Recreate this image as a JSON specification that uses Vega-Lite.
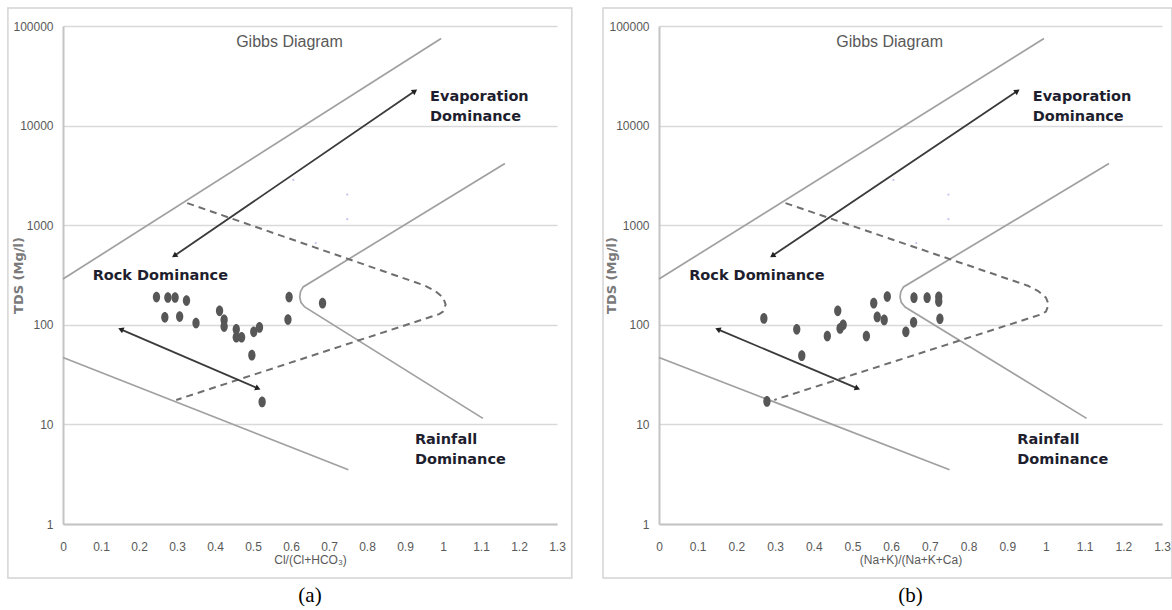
{
  "$schema": "https://vega.github.io/schema/vega-lite/v6.json",
  "padding": {"left": 7, "top": 7, "right": 0, "bottom": 0},
  "spacing": 29,
  "config": {"view": {"stroke": null}, "axis": {"labelOverlap": false, "labelSeparation": 0, "labelBound": false}, "axisX": {"labelOverlap": false}, "axisQuantitative": {"labelOverlap": false}},
  "datasets": {
    "template": [
      {"line": "upper", "o": 0, "x": 0, "tds": 288},
      {"line": "upper", "o": 1, "x": 0.995, "tds": 75000},
      {"line": "lower", "o": 0, "x": 0, "tds": 47},
      {"line": "lower", "o": 1, "x": 0.751, "tds": 3.5},
      {"line": "right", "o": 0, "x": 1.163, "tds": 4160},
      {"line": "right", "o": 1, "x": 0.632, "tds": 240},
      {"line": "right", "o": 2, "x": 0.625, "tds": 215},
      {"line": "right", "o": 3, "x": 0.623, "tds": 190},
      {"line": "right", "o": 4, "x": 0.626, "tds": 168},
      {"line": "right", "o": 5, "x": 0.636, "tds": 151},
      {"line": "right", "o": 6, "x": 1.105, "tds": 11.5}
    ],
    "dashed": [
      {"o": 0, "x": 0.327, "tds": 1667},
      {"o": 1, "x": 0.953, "tds": 247},
      {"o": 2, "x": 0.98, "tds": 218},
      {"o": 3, "x": 1.0, "tds": 188},
      {"o": 4, "x": 1.007, "tds": 160},
      {"o": 5, "x": 1.0, "tds": 136},
      {"o": 6, "x": 0.99, "tds": 128},
      {"o": 7, "x": 0.298, "tds": 17.6}
    ],
    "arrows": [
      {"arrow": "evap", "o": 0, "x": 0.293, "tds": 493},
      {"arrow": "evap", "o": 1, "x": 0.926, "tds": 22200},
      {"arrow": "rock", "o": 0, "x": 0.152, "tds": 90},
      {"arrow": "rock", "o": 1, "x": 0.513, "tds": 23}
    ],
    "notes": [
      {"kind": "title", "x": 0.596, "tds": 69000, "text": "Gibbs Diagram"},
      {"kind": "bold", "x": 0.966, "tds": 17700, "text": "Evaporation\nDominance"},
      {"kind": "bold", "x": 0.078, "tds": 284, "text": "Rock Dominance"},
      {"kind": "bold", "x": 0.926, "tds": 6.4, "text": "Rainfall\nDominance"}
    ],
    "specks": [
      {"x": 0.606, "tds": 2850},
      {"x": 0.748, "tds": 2030},
      {"x": 0.748, "tds": 1150},
      {"x": 0.665, "tds": 662}
    ],
    "pts": [
      {"panel": "a", "x": 0.246, "tds": 190},
      {"panel": "a", "x": 0.276, "tds": 188},
      {"panel": "a", "x": 0.295, "tds": 188},
      {"panel": "a", "x": 0.325, "tds": 175},
      {"panel": "a", "x": 0.268, "tds": 119},
      {"panel": "a", "x": 0.307, "tds": 121},
      {"panel": "a", "x": 0.35, "tds": 104},
      {"panel": "a", "x": 0.412, "tds": 138},
      {"panel": "a", "x": 0.424, "tds": 112},
      {"panel": "a", "x": 0.424, "tds": 96},
      {"panel": "a", "x": 0.456, "tds": 90},
      {"panel": "a", "x": 0.456, "tds": 75},
      {"panel": "a", "x": 0.47, "tds": 75},
      {"panel": "a", "x": 0.502, "tds": 85},
      {"panel": "a", "x": 0.517, "tds": 94},
      {"panel": "a", "x": 0.497, "tds": 49.5},
      {"panel": "a", "x": 0.524, "tds": 16.8},
      {"panel": "a", "x": 0.595, "tds": 190},
      {"panel": "a", "x": 0.592, "tds": 113},
      {"panel": "a", "x": 0.683, "tds": 165},
      {"panel": "b", "x": 0.271, "tds": 116},
      {"panel": "b", "x": 0.279, "tds": 17},
      {"panel": "b", "x": 0.356, "tds": 90},
      {"panel": "b", "x": 0.369, "tds": 49},
      {"panel": "b", "x": 0.435, "tds": 77},
      {"panel": "b", "x": 0.462, "tds": 138},
      {"panel": "b", "x": 0.468, "tds": 92},
      {"panel": "b", "x": 0.476, "tds": 100},
      {"panel": "b", "x": 0.536, "tds": 77},
      {"panel": "b", "x": 0.555, "tds": 165},
      {"panel": "b", "x": 0.564, "tds": 120},
      {"panel": "b", "x": 0.582, "tds": 112},
      {"panel": "b", "x": 0.59, "tds": 192},
      {"panel": "b", "x": 0.638, "tds": 85},
      {"panel": "b", "x": 0.658, "tds": 106},
      {"panel": "b", "x": 0.659, "tds": 187},
      {"panel": "b", "x": 0.693, "tds": 187},
      {"panel": "b", "x": 0.723, "tds": 191},
      {"panel": "b", "x": 0.723, "tds": 171},
      {"panel": "b", "x": 0.726, "tds": 115}
    ]
  },
  "hconcat": [
    {
      "width": 494,
      "height": 498,
      "title": {"text": "(a)", "orient": "bottom", "font": "Liberation Serif", "fontSize": 21, "fontWeight": "normal", "color": "#000000", "offset": 6},
      "layer": [
        {
          "data": {"name": "template"},
          "mark": {"type": "line", "color": "#a0a0a0", "strokeWidth": 1.7},
          "encoding": {
            "x": {"field": "x", "type": "quantitative", "scale": {"domain": [0, 1.3], "nice": false, "zero": false},
              "axis": {"title": "Cl/(Cl+HCO₃)", "values": [0, 0.1, 0.2, 0.3, 0.4, 0.5, 0.6, 0.7, 0.8, 0.9, 1, 1.1, 1.2, 1.3], "tickCount": 14, "format": ".1~f", "labelOverlap": false, "labelFlush": false, "grid": false, "ticks": false, "domain": true, "domainColor": "#c4c4c4", "domainWidth": 2, "labelFont": "Liberation Sans", "labelFontSize": 12, "labelColor": "#595959", "labelPadding": 17, "titleFont": "Liberation Sans", "titleFontSize": 12, "titleFontWeight": "normal", "titleColor": "#595959", "titlePadding": 2}},
            "y": {"field": "tds", "type": "quantitative", "scale": {"type": "log", "domain": [1, 100000], "nice": false},
              "axis": {"title": "TDS (Mg/l)", "values": [1, 10, 100, 1000, 10000, 100000], "format": "d", "labelOverlap": false, "grid": true, "gridColor": "#d9d9d9", "gridWidth": 1.5, "ticks": false, "domain": true, "domainColor": "#c4c4c4", "domainWidth": 2, "labelFont": "Liberation Sans", "labelFontSize": 12, "labelColor": "#595959", "labelPadding": 10, "titleFont": "DejaVu Sans", "titleFontSize": 13, "titleFontWeight": "bold", "titleColor": "#7a7a7a", "titlePadding": -13}},
            "detail": {"field": "line"},
            "order": {"field": "o"}
          }
        },
        {
          "data": {"values": [{}]},
          "mark": {"type": "rect", "fill": null, "stroke": "#d4d4d4", "strokeWidth": 1.5, "clip": false},
          "encoding": {
            "x": {"datum": -0.145, "type": "quantitative"},
            "x2": {"datum": 1.339},
            "y": {"datum": 151700, "type": "quantitative"},
            "y2": {"datum": 0.287}
          }
        },
        {
          "data": {"name": "dashed"},
          "mark": {"type": "line", "color": "#6e6e6e", "strokeWidth": 2, "strokeDash": [7, 5]},
          "encoding": {
            "x": {"field": "x", "type": "quantitative"},
            "y": {"field": "tds", "type": "quantitative"},
            "order": {"field": "o"}
          }
        },
        {
          "data": {"name": "arrows"},
          "mark": {"type": "line", "color": "#3a3a3a", "strokeWidth": 1.8},
          "encoding": {
            "x": {"field": "x", "type": "quantitative"},
            "y": {"field": "tds", "type": "quantitative"},
            "detail": {"field": "arrow"},
            "order": {"field": "o"}
          }
        },
        {
          "data": {"name": "arrows"},
          "transform": [{"filter": "datum.arrow == 'evap' && datum.o == 0"}],
          "mark": {"type": "point", "shape": "triangle-right", "filled": true, "color": "#222222", "size": 40, "angle": 145.6, "opacity": 1},
          "encoding": {"x": {"field": "x", "type": "quantitative"}, "y": {"field": "tds", "type": "quantitative"}}
        },
        {
          "data": {"name": "arrows"},
          "transform": [{"filter": "datum.arrow == 'evap' && datum.o == 1"}],
          "mark": {"type": "point", "shape": "triangle-right", "filled": true, "color": "#222222", "size": 40, "angle": 325.6, "opacity": 1},
          "encoding": {"x": {"field": "x", "type": "quantitative"}, "y": {"field": "tds", "type": "quantitative"}}
        },
        {
          "data": {"name": "arrows"},
          "transform": [{"filter": "datum.arrow == 'rock' && datum.o == 0"}],
          "mark": {"type": "point", "shape": "triangle-right", "filled": true, "color": "#222222", "size": 40, "angle": 203.2, "opacity": 1},
          "encoding": {"x": {"field": "x", "type": "quantitative"}, "y": {"field": "tds", "type": "quantitative"}}
        },
        {
          "data": {"name": "arrows"},
          "transform": [{"filter": "datum.arrow == 'rock' && datum.o == 1"}],
          "mark": {"type": "point", "shape": "triangle-right", "filled": true, "color": "#222222", "size": 40, "angle": 23.2, "opacity": 1},
          "encoding": {"x": {"field": "x", "type": "quantitative"}, "y": {"field": "tds", "type": "quantitative"}}
        },
        {
          "data": {"name": "specks"},
          "mark": {"type": "point", "shape": "circle", "filled": true, "color": "#c4c4ee", "size": 5, "opacity": 1},
          "encoding": {"x": {"field": "x", "type": "quantitative"}, "y": {"field": "tds", "type": "quantitative"}}
        },
        {
          "data": {"name": "pts"},
          "transform": [{"filter": "datum.panel == 'a'"}],
          "mark": {"type": "point", "shape": "M-0.68,0A0.68,1,0,1,0,0.68,0A0.68,1,0,1,0,-0.68,0Z", "filled": true, "color": "#575757", "size": 115, "opacity": 1},
          "encoding": {"x": {"field": "x", "type": "quantitative"}, "y": {"field": "tds", "type": "quantitative"}}
        },
        {
          "data": {"name": "notes"},
          "transform": [{"filter": "datum.kind == 'title'"}],
          "mark": {"type": "text", "font": "Liberation Sans", "fontSize": 16, "color": "#595959", "align": "center", "baseline": "middle"},
          "encoding": {"x": {"field": "x", "type": "quantitative"}, "y": {"field": "tds", "type": "quantitative"}, "text": {"field": "text"}}
        },
        {
          "data": {"name": "notes"},
          "transform": [{"filter": "datum.kind == 'bold'"}],
          "mark": {"type": "text", "font": "DejaVu Sans", "fontSize": 14.5, "fontWeight": "bold", "color": "#1e1e2e", "align": "left", "baseline": "alphabetic", "lineBreak": "\n", "lineHeight": 20},
          "encoding": {"x": {"field": "x", "type": "quantitative"}, "y": {"field": "tds", "type": "quantitative"}, "text": {"field": "text"}}
        }
      ]
    },
    {
      "width": 503,
      "height": 498,
      "title": {"text": "(b)", "orient": "bottom", "font": "Liberation Serif", "fontSize": 21, "fontWeight": "normal", "color": "#000000", "offset": 6},
      "layer": [
        {
          "data": {"name": "template"},
          "mark": {"type": "line", "color": "#a0a0a0", "strokeWidth": 1.7},
          "encoding": {
            "x": {"field": "x", "type": "quantitative", "scale": {"domain": [0, 1.3], "nice": false, "zero": false},
              "axis": {"title": "(Na+K)/(Na+K+Ca)", "values": [0, 0.1, 0.2, 0.3, 0.4, 0.5, 0.6, 0.7, 0.8, 0.9, 1, 1.1, 1.2, 1.3], "tickCount": 14, "format": ".1~f", "labelOverlap": false, "labelFlush": false, "grid": false, "ticks": false, "domain": true, "domainColor": "#c4c4c4", "domainWidth": 2, "labelFont": "Liberation Sans", "labelFontSize": 12, "labelColor": "#595959", "labelPadding": 17, "titleFont": "Liberation Sans", "titleFontSize": 12, "titleFontWeight": "normal", "titleColor": "#595959", "titlePadding": 2}},
            "y": {"field": "tds", "type": "quantitative", "scale": {"type": "log", "domain": [1, 100000], "nice": false},
              "axis": {"title": "TDS (Mg/l)", "values": [1, 10, 100, 1000, 10000, 100000], "format": "d", "labelOverlap": false, "grid": true, "gridColor": "#d9d9d9", "gridWidth": 1.5, "ticks": false, "domain": true, "domainColor": "#c4c4c4", "domainWidth": 2, "labelFont": "Liberation Sans", "labelFontSize": 12, "labelColor": "#595959", "labelPadding": 10, "titleFont": "DejaVu Sans", "titleFontSize": 13, "titleFontWeight": "bold", "titleColor": "#7a7a7a", "titlePadding": -10}},
            "detail": {"field": "line"},
            "order": {"field": "o"}
          }
        },
        {
          "data": {"values": [{}]},
          "mark": {"type": "rect", "fill": null, "stroke": "#d4d4d4", "strokeWidth": 1.5, "clip": false},
          "encoding": {
            "x": {"datum": -0.1447, "type": "quantitative"},
            "x2": {"datum": 1.3256},
            "y": {"datum": 151700, "type": "quantitative"},
            "y2": {"datum": 0.287}
          }
        },
        {
          "data": {"name": "dashed"},
          "mark": {"type": "line", "color": "#6e6e6e", "strokeWidth": 2, "strokeDash": [7, 5]},
          "encoding": {
            "x": {"field": "x", "type": "quantitative"},
            "y": {"field": "tds", "type": "quantitative"},
            "order": {"field": "o"}
          }
        },
        {
          "data": {"name": "arrows"},
          "mark": {"type": "line", "color": "#3a3a3a", "strokeWidth": 1.8},
          "encoding": {
            "x": {"field": "x", "type": "quantitative"},
            "y": {"field": "tds", "type": "quantitative"},
            "detail": {"field": "arrow"},
            "order": {"field": "o"}
          }
        },
        {
          "data": {"name": "arrows"},
          "transform": [{"filter": "datum.arrow == 'evap' && datum.o == 0"}],
          "mark": {"type": "point", "shape": "triangle-right", "filled": true, "color": "#222222", "size": 40, "angle": 146.1, "opacity": 1},
          "encoding": {"x": {"field": "x", "type": "quantitative"}, "y": {"field": "tds", "type": "quantitative"}}
        },
        {
          "data": {"name": "arrows"},
          "transform": [{"filter": "datum.arrow == 'evap' && datum.o == 1"}],
          "mark": {"type": "point", "shape": "triangle-right", "filled": true, "color": "#222222", "size": 40, "angle": 326.1, "opacity": 1},
          "encoding": {"x": {"field": "x", "type": "quantitative"}, "y": {"field": "tds", "type": "quantitative"}}
        },
        {
          "data": {"name": "arrows"},
          "transform": [{"filter": "datum.arrow == 'rock' && datum.o == 0"}],
          "mark": {"type": "point", "shape": "triangle-right", "filled": true, "color": "#222222", "size": 40, "angle": 202.8, "opacity": 1},
          "encoding": {"x": {"field": "x", "type": "quantitative"}, "y": {"field": "tds", "type": "quantitative"}}
        },
        {
          "data": {"name": "arrows"},
          "transform": [{"filter": "datum.arrow == 'rock' && datum.o == 1"}],
          "mark": {"type": "point", "shape": "triangle-right", "filled": true, "color": "#222222", "size": 40, "angle": 22.8, "opacity": 1},
          "encoding": {"x": {"field": "x", "type": "quantitative"}, "y": {"field": "tds", "type": "quantitative"}}
        },
        {
          "data": {"name": "specks"},
          "mark": {"type": "point", "shape": "circle", "filled": true, "color": "#c4c4ee", "size": 5, "opacity": 1},
          "encoding": {"x": {"field": "x", "type": "quantitative"}, "y": {"field": "tds", "type": "quantitative"}}
        },
        {
          "data": {"name": "pts"},
          "transform": [{"filter": "datum.panel == 'b'"}],
          "mark": {"type": "point", "shape": "M-0.68,0A0.68,1,0,1,0,0.68,0A0.68,1,0,1,0,-0.68,0Z", "filled": true, "color": "#575757", "size": 115, "opacity": 1},
          "encoding": {"x": {"field": "x", "type": "quantitative"}, "y": {"field": "tds", "type": "quantitative"}}
        },
        {
          "data": {"name": "notes"},
          "transform": [{"filter": "datum.kind == 'title'"}],
          "mark": {"type": "text", "font": "Liberation Sans", "fontSize": 16, "color": "#595959", "align": "center", "baseline": "middle"},
          "encoding": {"x": {"field": "x", "type": "quantitative"}, "y": {"field": "tds", "type": "quantitative"}, "text": {"field": "text"}}
        },
        {
          "data": {"name": "notes"},
          "transform": [{"filter": "datum.kind == 'bold'"}],
          "mark": {"type": "text", "font": "DejaVu Sans", "fontSize": 14.5, "fontWeight": "bold", "color": "#1e1e2e", "align": "left", "baseline": "alphabetic", "lineBreak": "\n", "lineHeight": 20},
          "encoding": {"x": {"field": "x", "type": "quantitative"}, "y": {"field": "tds", "type": "quantitative"}, "text": {"field": "text"}}
        }
      ]
    }
  ]
}
